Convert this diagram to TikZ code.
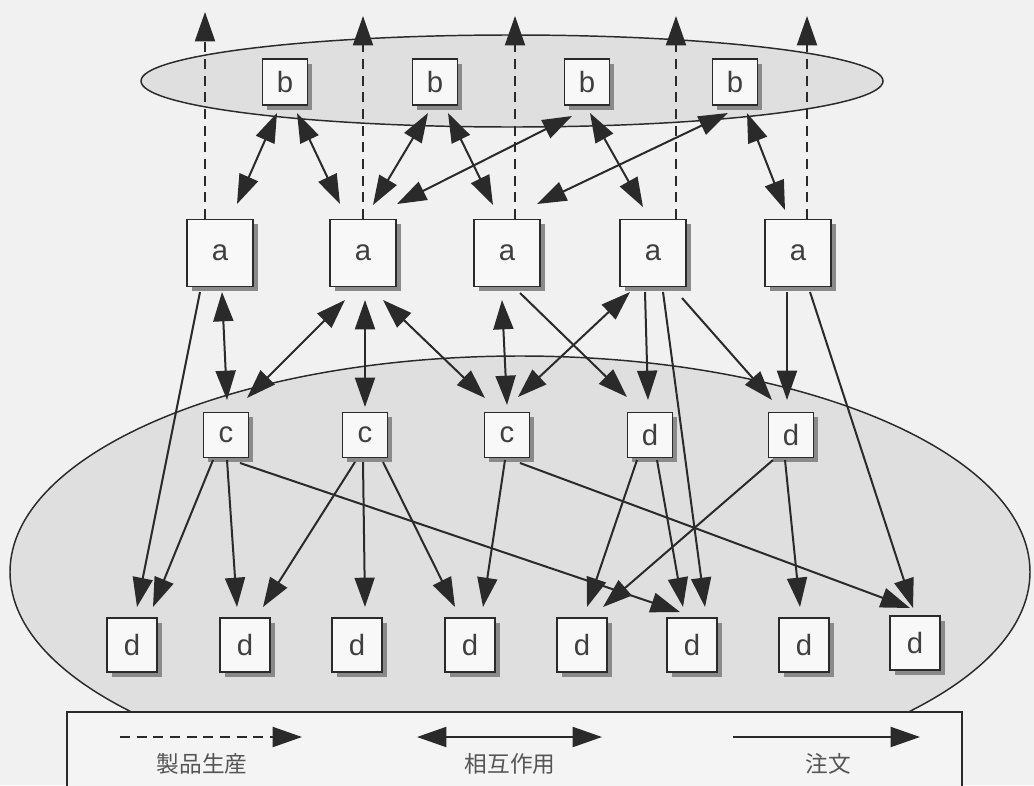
\documentclass[tikz,border=0pt]{standalone}
\usepackage{fontspec}
\setmainfont{Liberation Sans}
\newfontfamily\cjk{Noto Sans CJK JP}
\usetikzlibrary{arrows.meta,calc,shadows}
\definecolor{bgc}{HTML}{F1F1F1}
\definecolor{ellc}{HTML}{DFDFDF}
\definecolor{boxc}{HTML}{F8F8F8}
\definecolor{lc}{HTML}{2A2A2A}
\definecolor{shc}{HTML}{8A8A8A}
\definecolor{legc}{HTML}{F4F4F4}
\tikzset{
  >={Triangle[length=22pt,width=15pt]},
  box/.style={draw=lc, line width=1.1pt, fill=boxc, inner sep=0pt,
    font=\fontsize{22pt}{24pt}\selectfont, text=lc!90,
    drop shadow={shadow xshift=3.5pt, shadow yshift=-3.5pt, fill=shc, opacity=1}},
  bbox/.style={box, minimum width=33.75pt, minimum height=34.5pt},
  abox/.style={box, minimum width=49.5pt, minimum height=50.25pt},
  sbox/.style={box, minimum width=33.75pt, minimum height=33.75pt},
  dbox/.style={box, minimum width=37.5pt, minimum height=40.5pt},
  int/.style={draw=lc, line width=1.5pt, <->},
  ord/.style={draw=lc, line width=1.5pt, ->},
  prod/.style={draw=lc, line width=1.5pt, dash pattern=on 7.5pt off 5pt, ->},
  legtext/.style={font=\cjk\fontsize{17pt}{19pt}\selectfont, text=lc!80}
}
\begin{document}
\begin{tikzpicture}[x=0.75pt,y=-0.75pt]
\useasboundingbox (0,0) rectangle (1034,785);
\fill[bgc] (0,0) rectangle (1034,785);
% big ellipse
\draw[lc, line width=1.1pt, fill=ellc] (520,572) ellipse [x radius=382.5pt, y radius=162pt];
% legend frame
\draw[lc, line width=1.1pt, fill=legc] (67,712) rectangle (962,800);
% top ellipse
\draw[lc, line width=1.1pt, fill=ellc] (512,81) ellipse [x radius=278.25pt, y radius=34.5pt];

% nodes
\node[bbox] (b1) at (285,82) {b};
\node[bbox] (b2) at (435,82) {b};
\node[bbox] (b3) at (587,82) {b};
\node[bbox] (b4) at (735,82) {b};

\node[abox] (a1) at (220,253) {a};
\node[abox] (a2) at (363,253) {a};
\node[abox] (a3) at (507,253) {a};
\node[abox] (a4) at (653,253) {a};
\node[abox] (a5) at (798,253) {a};

\node[sbox] (c1) at (226,435) {c};
\node[sbox] (c2) at (365,435) {c};
\node[sbox] (c3) at (507,435) {c};
\node[sbox] (m1) at (650,435) {d};
\node[sbox] (m2) at (791,435) {d};

\node[dbox] (d1) at (132,645) {d};
\node[dbox] (d2) at (245,645) {d};
\node[dbox] (d3) at (357,645) {d};
\node[dbox] (d4) at (470,645) {d};
\node[dbox] (d5) at (582,645) {d};
\node[dbox] (d6) at (692,645) {d};
\node[dbox] (d7) at (804,645) {d};
\node[dbox] (d8) at (915,643) {d};

% product arrows (dashed, upward)
\coordinate (p1) at (205,12);
\coordinate (p2) at (363,16);
\coordinate (p3) at (515,16);
\coordinate (p4) at (676,16);
\coordinate (p5) at (807,16);
\draw[prod] ($(a1)+(-15,-34)$) -- (p1);
\draw[prod] ($(a2)+(0,-34)$) -- (p2);
\draw[prod] ($(a3)+(8,-34)$) -- (p3);
\draw[prod] ($(a4)+(23,-34)$) -- (p4);
\draw[prod] ($(a5)+(9,-34)$) -- (p5);

% interactions b - a
\draw[int] ($(b1)+(-8,31)$) -- ($(a1)+(17,-49)$);
\draw[int] ($(b1)+(12,31)$) -- ($(a2)+(-23,-49)$);
\draw[int] ($(b2)+(-7,31)$) -- ($(a2)+(10,-48)$);
\draw[int] ($(b2)+(13,31)$) -- ($(a3)+(-14,-48)$);
\draw[int] ($(b3)+(-15,34)$) -- ($(a2)+(34,-49)$);
\draw[int] ($(b3)+(3,31)$) -- ($(a4)+(-10,-46)$);
\draw[int] ($(b4)+(-7,31)$) -- ($(a3)+(30,-49)$);
\draw[int] ($(b4)+(12,31)$) -- ($(a5)+(-13,-43)$);

% interactions a - c
\draw[int] ($(a1)+(2,39)$) -- ($(c1)+(1,-35)$);
\draw[int] ($(a2)+(-18,47)$) -- ($(c1)+(21,-37)$);
\draw[int] ($(a2)+(2,47)$) -- ($(c2)+(0,-28)$);
\draw[int] ($(a2)+(20,47)$) -- ($(c3)+(-22,-37)$);
\draw[int] ($(a3)+(-5,47)$) -- ($(c3)+(0,-30)$);
\draw[int] ($(a4)+(-23,39)$) -- ($(c3)+(11,-38)$);

% orders
\draw[ord] ($(a1)+(-20,39)$) -- ($(d1)+(5,-38)$);
\draw[ord] ($(a3)+(13,40)$) -- ($(m1)+(-23,-38)$);
\draw[ord] ($(a4)+(-8,39)$) -- ($(m1)+(-2,-35)$);
\draw[ord] ($(a4)+(10,39)$) -- ($(d6)+(13,-38)$);
\draw[ord] ($(a4)+(29,45)$) -- ($(m2)+(-19,-35)$);
\draw[ord] ($(a5)+(-11,39)$) -- ($(m2)+(-4,-35)$);
\draw[ord] ($(a5)+(12,39)$) -- ($(d8)+(-2,-35)$);
\draw[ord] ($(c1)+(-13,25)$) -- ($(d1)+(21,-38)$);
\draw[ord] ($(c1)+(1,25)$) -- ($(d2)+(-8,-38)$);
\draw[ord] ($(c1)+(14,28)$) -- ($(d6)+(-12,-33)$);
\draw[ord] ($(c2)+(-10,27)$) -- ($(d2)+(18,-38)$);
\draw[ord] ($(c2)+(-2,27)$) -- ($(d3)+(8,-38)$);
\draw[ord] ($(c2)+(18,27)$) -- ($(d4)+(-15,-38)$);
\draw[ord] ($(c3)+(-2,25)$) -- ($(d4)+(13,-38)$);
\draw[ord] ($(c3)+(13,28)$) -- ($(d8)+(-5,-35)$);
\draw[ord] ($(m1)+(-13,25)$) -- ($(d5)+(5,-38)$);
\draw[ord] ($(m1)+(7,25)$) -- ($(d6)+(-9,-38)$);
\draw[ord] ($(m2)+(-18,25)$) -- ($(d5)+(21,-38)$);
\draw[ord] ($(m2)+(-6,25)$) -- ($(d7)+(-4,-38)$);

% legend
\coordinate (l1a) at (120,737);
\coordinate (l1b) at (302,737);
\coordinate (l2a) at (417,737);
\coordinate (l2b) at (602,737);
\coordinate (l3a) at (733,737);
\coordinate (l3b) at (920,737);
\draw[prod] (l1a) -- (l1b);
\draw[int] (l2a) -- (l2b);
\draw[ord] (l3a) -- (l3b);
\node[legtext] (t1) at (202,764) {製品生産};
\node[legtext] (t2) at (510,764) {相互作用};
\node[legtext] (t3) at (828,764) {注文};
\end{tikzpicture}
\end{document}
